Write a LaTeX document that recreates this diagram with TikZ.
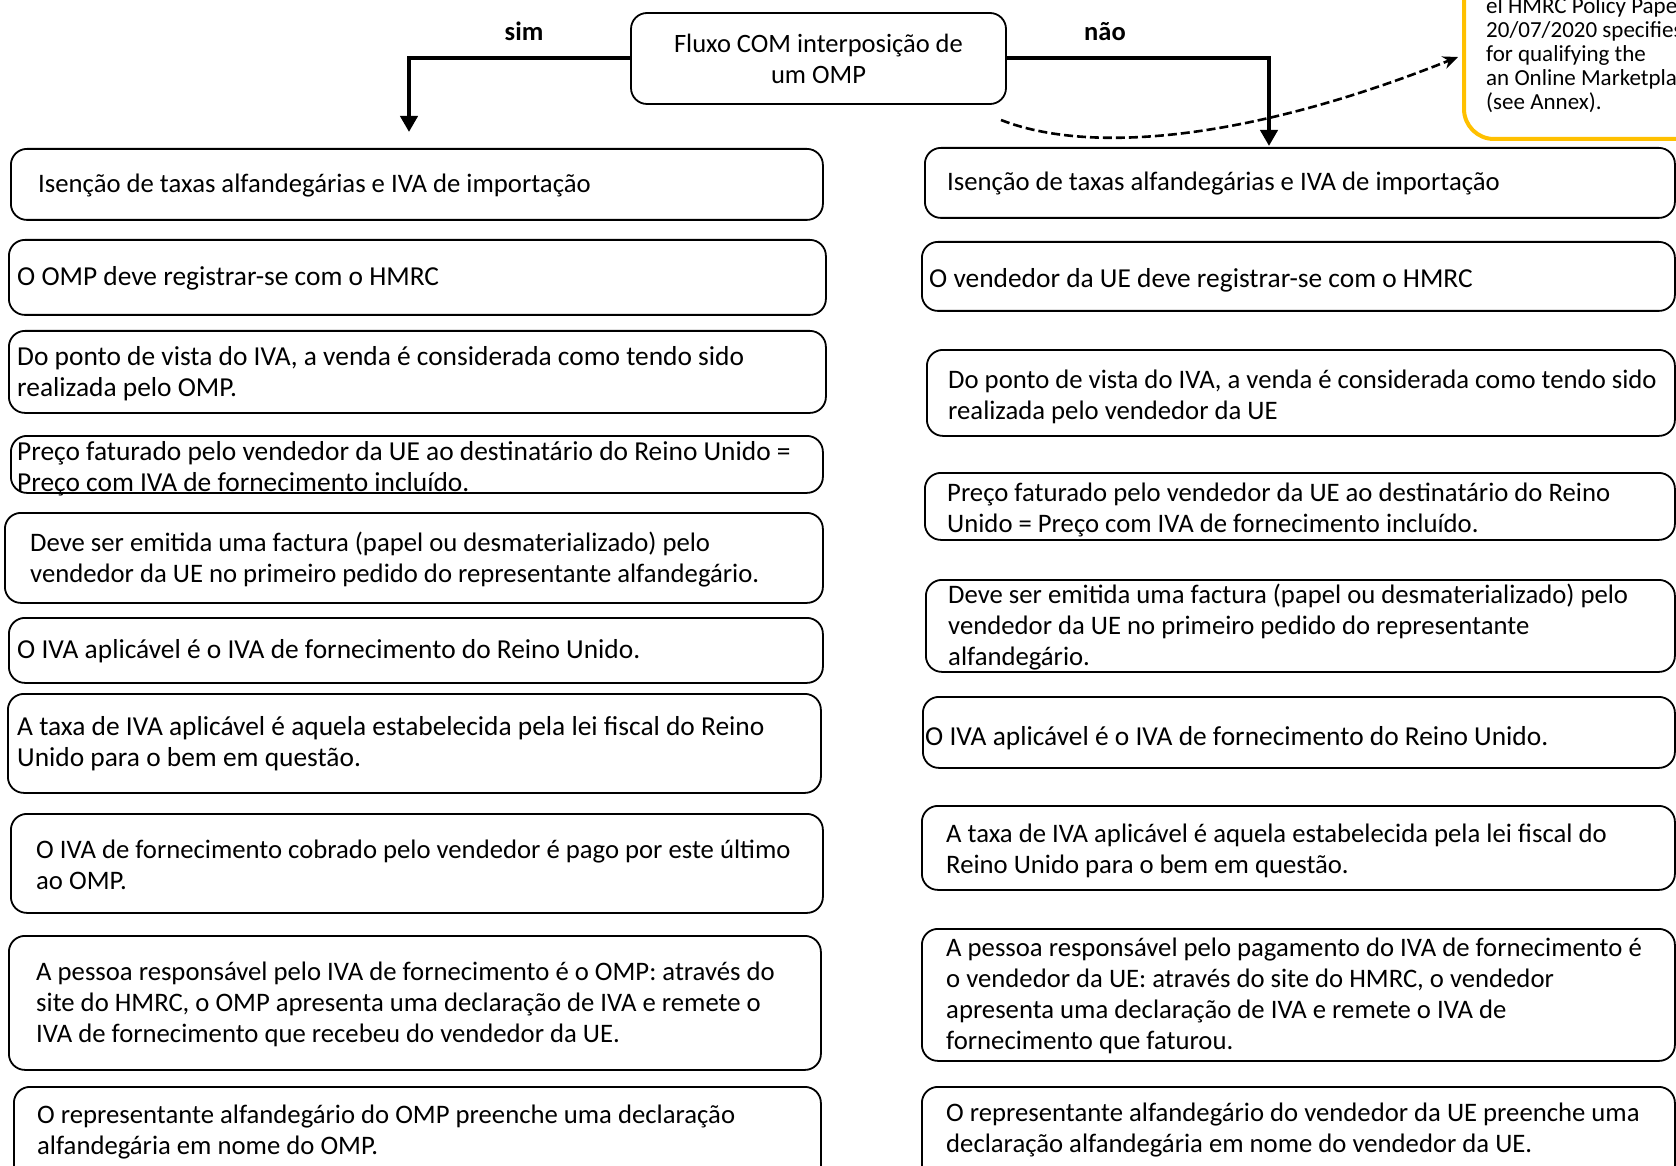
\documentclass[tikz,border=0pt]{standalone}
\usepackage{fontspec}
\setmainfont{Carlito}
\usetikzlibrary{arrows.meta}
\definecolor{notaouro}{HTML}{FFC000}
\tikzset{
  caixa/.style={draw, line width=1.8pt, rounded corners=16pt, inner sep=0pt},
  texto/.style={anchor=base west, align=left, inner sep=0pt, font=\fontsize{26.7}{31}\selectfont},
  textoG/.style={texto, font=\fontsize{27.4}{31}\selectfont},
  rotulo/.style={inner sep=0pt, font=\bfseries\fontsize{26.5}{31}\selectfont},
  seta/.style={line width=4pt, -{Triangle[length=16pt,width=17pt]}},
  tracejada/.style={line width=2.6pt, dash pattern=on 9pt off 4pt, -{Stealth[length=15pt,width=13pt]}},
  nota/.style={draw=notaouro, line width=4pt, rounded corners=30pt, fill=white}
}

\begin{document}
\begin{tikzpicture}[x=1pt, y=-1pt]
      \useasboundingbox (0,0) rectangle (1676,1166);
      \clip (0,0) rectangle (1676,1166);
      % Central box
      \node[caixa, minimum width=375, minimum height=91, align=center,
            font=\fontsize{26.5}{31}\selectfont] (fluxo) at (818.5,58.5)
            {Fluxo COM interposição de\\um OMP};
      \node[rotulo] (sim) at (524,31) {sim};
      \node[rotulo] (nao) at (1105,32) {não};
      % Boxes (left: sim, right: não)
      \foreach \n/\xa/\ya/\xb/\yb in {L1/10/148/822/219, L2/8/239/825/314, L3/8/330/825/412,
          L4/10/435/822/492, L5/4/512/822/602, L6/8/617/822/682, L7/7/693/820/792,
          L8/10/813/822/912, L9/8/935/820/1069, L10/13/1086/820/1200,
          R1/924/147/1674/217, R2/921/241/1674/310, R3/926/349/1674/435,
          R4/924/472/1674/539, R5/925/579/1674/671, R6/922/696/1674/767,
          R7/921/805/1674/889, R8/921/928/1674/1060, R9/921/1086/1674/1200}{
          \node[caixa, anchor=north west, minimum width=\xb-\xa, minimum height=\yb-\ya] (\n) at (\xa,\ya) {};
        }
      % Texts left (anchored at the baseline of the last line)
      \node[texto] (tL1) at (38,193) {Isenção de taxas alfandegárias e IVA de importação};
      \node[textoG] (tL2) at (17,286) {O OMP deve registrar-se com o HMRC};
      \node[textoG] (tL3) at (17,396) {Do ponto de vista do IVA, a venda é considerada como tendo sido\\realizada pelo OMP.};
      \node[textoG] (tL4) at (17,491) {Preço faturado pelo vendedor da UE ao destinatário do Reino Unido =\\Preço com IVA de fornecimento incluído.};
      \node[texto] (tL5) at (30,582) {Deve ser emitida uma factura (papel ou desmaterializado) pelo\\vendedor da UE no primeiro pedido do representante alfandegário.};
      \node[textoG] (tL6) at (17,658) {O IVA aplicável é o IVA de fornecimento do Reino Unido.};
      \node[textoG] (tL7) at (17,766) {A taxa de IVA aplicável é aquela estabelecida pela lei fiscal do Reino\\Unido para o bem em questão.};
      \node[texto] (tL8) at (36,889) {O IVA de fornecimento cobrado pelo vendedor é pago por este último\\ao OMP.};
      \node[texto] (tL9) at (36,1042) {A pessoa responsável pelo IVA de fornecimento é o OMP: através do\\site do HMRC, o OMP apresenta uma declaração de IVA e remete o\\IVA de fornecimento que recebeu do vendedor da UE.};
      \node[texto] (tL10) at (37,1154) {O representante alfandegário do OMP preenche uma declaração\\alfandegária em nome do OMP.};
      % Texts right
      \node[texto] (tR1) at (947,191) {Isenção de taxas alfandegárias e IVA de importação};
      \node[textoG] (tR2) at (929,288) {O vendedor da UE deve registrar-se com o HMRC};
      \node[texto] (tR3) at (948,419) {Do ponto de vista do IVA, a venda é considerada como tendo sido\\realizada pelo vendedor da UE};
      \node[texto] (tR4) at (947,532) {Preço faturado pelo vendedor da UE ao destinatário do Reino\\Unido = Preço com IVA de fornecimento incluído.};
      \node[texto] (tR5) at (948,665) {Deve ser emitida uma factura (papel ou desmaterializado) pelo\\vendedor da UE no primeiro pedido do representante\\alfandegário.};
      \node[textoG] (tR6) at (925,745) {O IVA aplicável é o IVA de fornecimento do Reino Unido.};
      \node[texto] (tR7) at (946,873) {A taxa de IVA aplicável é aquela estabelecida pela lei fiscal do\\Reino Unido para o bem em questão.};
      \node[texto] (tR8) at (946,1049) {A pessoa responsável pelo pagamento do IVA de fornecimento é\\o vendedor da UE: através do site do HMRC, o vendedor\\apresenta uma declaração de IVA e remete o IVA de\\fornecimento que faturou.};
      \node[texto] (tR9) at (946,1152) {O representante alfandegário do vendedor da UE preenche uma\\declaração alfandegária em nome do vendedor da UE.};
      % Arrows
      \coordinate (simFim) at (409,132);
      \coordinate (naoFim) at (1269,146);
      \draw[seta] (fluxo.west) -| (simFim);
      \draw[seta] (fluxo.east) -| (naoFim);
      % Note
      \node[nota, anchor=south west, minimum width=260, minimum height=260] (nota) at (1462,141) {};
      \node[texto, font=\fontsize{23}{24}\selectfont] (tNota) at (1486,110)
            {el HMRC Policy Paper\\20/07/2020 specifies\\for qualifying the\\an Online Marketplace\\(see Annex).};
      \coordinate (curvaIni) at (1001,120);
      \coordinate (notaSeta) at (1458,57);
      \draw[tracejada] (curvaIni) .. controls (1090,155) and (1250,140) .. (notaSeta);
    \end{tikzpicture}
\end{document}
